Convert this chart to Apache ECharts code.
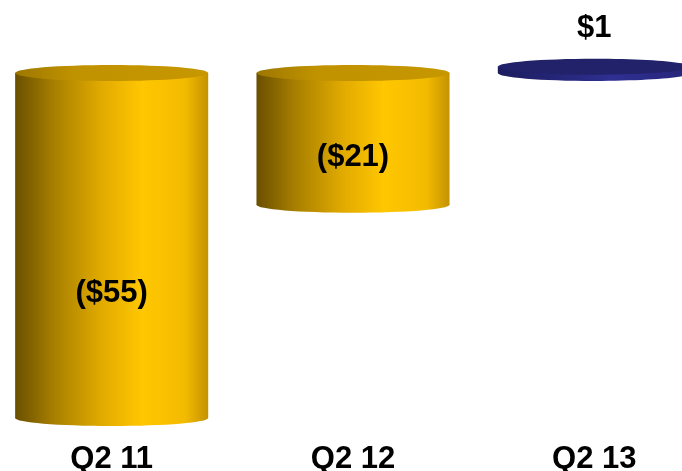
<!DOCTYPE html>
<html>
<head>
<meta charset="utf-8">
<script src="https://cdn.jsdelivr.net/npm/echarts@6/dist/echarts.min.js"></script>
<style>
  html, body { margin: 0; padding: 0; background: #ffffff; }
  #chart { width: 682px; height: 471px; }
</style>
</head>
<body>
<div id="chart"></div>
<script>
// Quarterly results (in $ millions), negatives shown in parentheses
const categories = ['Q2 11', 'Q2 12', 'Q2 13'];
const values = [-55, -21, 1];

const FONT = "'Liberation Sans', Arial, sans-serif";

function fmt(v) {
  return v < 0 ? '($' + Math.abs(v) + ')' : '$' + v;
}

const goldBody = {
  type: 'linear', x: 0, y: 0, x2: 1, y2: 0,
  colorStops: [
    { offset: 0, color: '#6a4f00' },
    { offset: 0.2, color: '#a77f00' },
    { offset: 0.45, color: '#e2ab00' },
    { offset: 0.66, color: '#ffc700' },
    { offset: 0.88, color: '#f3bb00' },
    { offset: 1, color: '#c49200' }
  ]
};
const goldTop = {
  type: 'linear', x: 0, y: 0, x2: 1, y2: 0,
  colorStops: [
    { offset: 0, color: '#9c7600' },
    { offset: 0.3, color: '#c09200' },
    { offset: 1, color: '#c69700' }
  ]
};
const navyBody = {
  type: 'linear', x: 0, y: 0, x2: 1, y2: 0,
  colorStops: [
    { offset: 0, color: '#1c1c5e' },
    { offset: 0.6, color: '#2f2f92' },
    { offset: 1, color: '#26267a' }
  ]
};

function renderCylinder(params, api) {
  const idx = api.value(0);
  const v = api.value(1);
  const p0 = api.coord([idx, 0]);
  const p1 = api.coord([idx, v]);
  const w = api.size([1, 0])[0] * 0.8;
  const cx = p0[0];
  const rx = w / 2;
  const ry = 8;
  const upper = Math.min(p0[1], p1[1]);
  const lower = Math.max(p0[1], p1[1]);
  const pos = v >= 0;
  const body = pos ? navyBody : goldBody;
  const top = pos ? '#22226a' : goldTop;

  const children = [
    { type: 'ellipse', shape: { cx: cx, cy: lower, rx: rx, ry: ry }, style: { fill: body } },
    { type: 'rect', shape: { x: cx - rx, y: upper, width: w, height: lower - upper }, style: { fill: body } },
    { type: 'ellipse', shape: { cx: cx, cy: upper, rx: rx, ry: ry }, style: { fill: top } }
  ];

  const ly = pos ? upper - 38 : upper + 0.64 * (lower - upper);
  children.push({
    type: 'text',
    x: cx, y: ly,
    style: {
      text: fmt(v),
      fill: '#000000',
      font: 'bold 31px ' + FONT,
      align: 'center',
      verticalAlign: 'middle'
    }
  });
  return { type: 'group', children: children };
}

const chart = echarts.init(document.getElementById('chart'), null, { renderer: 'canvas' });
chart.setOption({
  animation: false,
  backgroundColor: '#ffffff',
  grid: {
    left: -9, right: -33, top: 41.6, bottom: 34.2,
    containLabel: false,
    outerBoundsMode: 'none'
  },
  xAxis: {
    type: 'category',
    data: categories,
    axisLine: { show: false },
    axisTick: { show: false },
    splitLine: { show: false },
    axisLabel: {
      margin: 7,
      color: '#000000',
      fontFamily: FONT,
      fontWeight: 'bold',
      fontSize: 31
    }
  },
  yAxis: {
    type: 'value',
    min: -58,
    max: 5,
    show: false,
    splitLine: { show: false }
  },
  series: [{
    type: 'custom',
    renderItem: renderCylinder,
    data: values.map((v, i) => [i, v]),
    encode: { x: 0, y: 1 }
  }]
});
</script>
</body>
</html>
